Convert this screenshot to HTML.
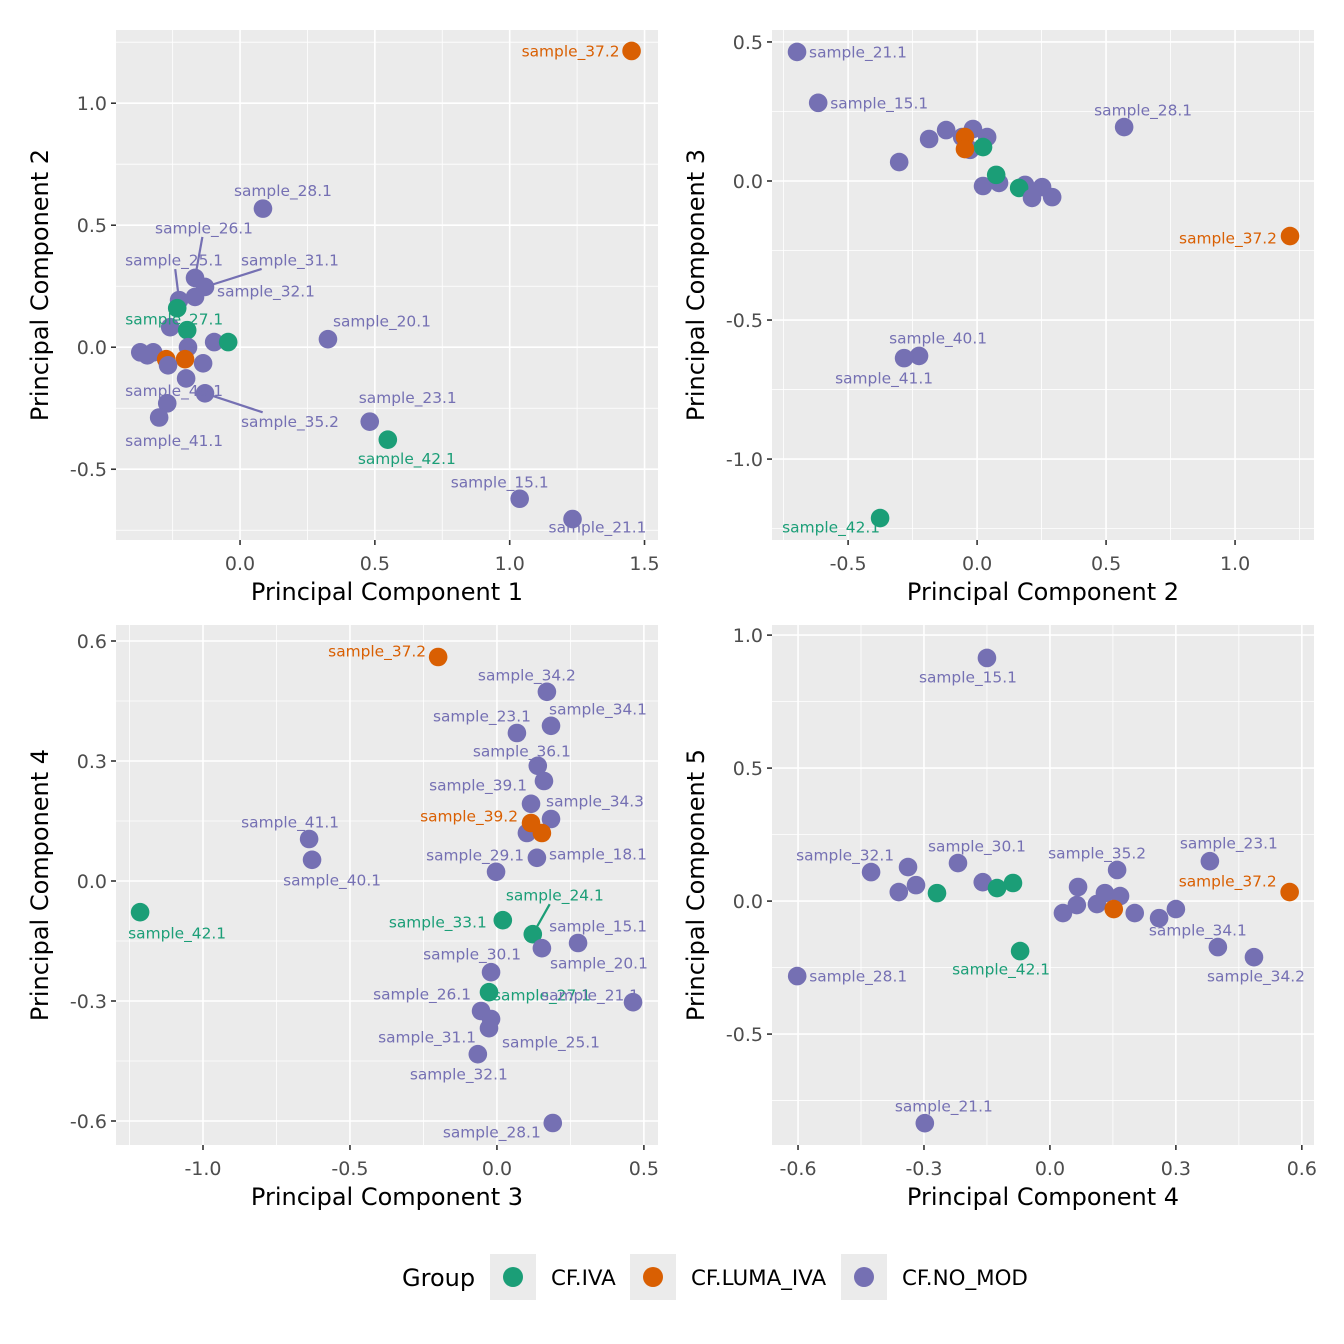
<!DOCTYPE html>
<html><head><meta charset="utf-8">
<style>
html,body{margin:0;padding:0;background:#fff;}
svg{display:block;font-family:"DejaVu Sans","Liberation Sans",sans-serif;}
</style></head>
<body>
<svg id="chart" width="1344" height="1344" viewBox="0 0 1344 1344" xmlns="http://www.w3.org/2000/svg"></svg>
<script>
// ---- data ----
const groups = ["CF.IVA", "CF.LUMA_IVA", "CF.NO_MOD"];
const groupColors = ["#1B9E77", "#D95F02", "#7570B3"];

// Panel 1: PC1 vs PC2
const p1x = [1.452,0.085,0.326,0.481,0.548,1.037,1.233,-0.167,-0.13,-0.167,-0.226,-0.233,-0.259,-0.196,-0.193,-0.096,-0.044,-0.37,-0.322,-0.344,-0.274,-0.204,-0.267,-0.137,-0.2,-0.13,-0.27,-0.3];
const p1y = [1.214,0.568,0.033,-0.305,-0.379,-0.621,-0.704,0.284,0.247,0.206,0.193,0.16,0.082,0.07,0.0,0.021,0.021,-0.021,-0.021,-0.033,-0.049,-0.049,-0.074,-0.066,-0.128,-0.189,-0.23,-0.288];
const p1g = [1,2,2,2,0,2,2,2,2,2,2,0,2,0,2,2,0,2,2,2,1,1,2,2,2,2,2,2];
const p1lab = ["sample_37.2","sample_28.1","sample_20.1","sample_23.1","sample_42.1","sample_15.1","sample_21.1","sample_26.1","sample_31.1","sample_32.1","sample_25.1","sample_27.1","","","","","","","","","","","","","sample_40.1","sample_35.2","","sample_41.1"];
const p1seg = [0,0,0,0,0,0,0,1,1,0,1,0,0,0,0,0,0,0,0,0,0,0,0,0,0,1,0,0];

// Panel 2: PC2 vs PC3
const p2x = [-0.698,-0.616,0.57,-0.225,-0.283,-0.376,-0.302,-0.186,-0.12,-0.016,-0.058,0.039,-0.027,0.023,0.023,0.085,0.074,0.186,0.163,0.252,0.213,0.291,-0.047,-0.047,1.213];
const p2y = [0.464,0.281,0.194,-0.629,-0.637,-1.212,0.068,0.151,0.183,0.187,0.158,0.158,0.112,0.122,-0.018,-0.007,0.022,-0.014,-0.025,-0.022,-0.061,-0.058,0.158,0.115,-0.198];
const p2g = [2,2,2,2,2,0,2,2,2,2,2,2,2,0,2,2,0,2,0,2,2,2,1,1,1];
const p2lab = ["sample_21.1","sample_15.1","sample_28.1","sample_40.1","sample_41.1","sample_42.1","","","","","","","","","","","","","","","","","","","sample_37.2"];
const p2seg = new Array(25).fill(0);

// Panel 3: PC3 vs PC4
const p3x = [-0.2,0.17,0.184,0.068,0.139,0.16,0.116,0.184,0.102,0.116,0.153,0.136,-0.003,0.02,0.122,0.153,0.276,-0.02,-0.027,0.463,-0.054,-0.02,-0.027,-0.065,0.19,-0.639,-0.629,-1.214];
const p3y = [0.56,0.473,0.388,0.37,0.288,0.25,0.193,0.155,0.12,0.145,0.12,0.058,0.023,-0.098,-0.133,-0.168,-0.155,-0.228,-0.278,-0.303,-0.325,-0.345,-0.368,-0.433,-0.605,0.105,0.053,-0.078];
const p3g = [1,2,2,2,2,2,2,2,2,1,1,2,2,0,0,2,2,2,0,2,2,2,2,2,2,2,2,0];
const p3lab = ["sample_37.2","sample_34.2","sample_34.1","sample_23.1","sample_36.1","","sample_39.1","sample_34.3","","sample_39.2","","sample_18.1","sample_29.1","sample_33.1","sample_24.1","sample_20.1","sample_15.1","sample_30.1","sample_27.1","sample_21.1","sample_26.1","sample_31.1","sample_25.1","sample_32.1","sample_28.1","sample_41.1","sample_40.1","sample_42.1"];
const p3seg = [0,0,0,0,0,0,0,0,0,0,0,0,0,0,1,0,0,0,0,0,0,0,0,0,0,0,0,0];

// Panel 4: PC4 vs PC5
const p4x = [-0.15,-0.426,-0.338,-0.319,-0.36,-0.269,-0.219,-0.16,-0.126,-0.088,-0.071,0.16,0.067,0.064,0.031,0.131,0.167,0.112,0.152,0.202,0.26,0.3,0.381,0.571,0.4,0.486,-0.602,-0.298];
const p4y = [0.914,0.109,0.128,0.06,0.034,0.03,0.143,0.071,0.049,0.068,-0.188,0.117,0.053,-0.015,-0.045,0.03,0.019,-0.011,-0.03,-0.045,-0.064,-0.03,0.15,0.034,-0.173,-0.211,-0.282,-0.835];
const p4g = [2,2,2,2,2,0,2,2,0,0,0,2,2,2,2,2,2,2,1,2,2,2,2,1,2,2,2,2];
const p4lab = ["sample_15.1","sample_32.1","","","","","sample_30.1","","","","sample_42.1","sample_35.2","","","","","","","","","","","sample_23.1","sample_37.2","sample_34.1","sample_34.2","sample_28.1","sample_21.1"];
const p4seg = new Array(28).fill(0);

// ---- layout (label offsets in pixels, not data) ----
const p1off = [[-61,0],[20,-18],[54,-18],[38,-24],[19,19],[-20,-17],[25,8],[9,-50],[85,-27],[71,-6],[-5,-40],[-3,11],[0,0],[0,0],[0,0],[0,0],[0,0],[0,0],[0,0],[0,0],[0,0],[0,0],[0,0],[0,0],[-12,12],[85,28],[0,0],[15,23]];
const p2off = [[61,0],[61,0],[19,-17],[19,-18],[-20,20],[-49,9],[0,0],[0,0],[0,0],[0,0],[0,0],[0,0],[0,0],[0,0],[0,0],[0,0],[0,0],[0,0],[0,0],[0,0],[0,0],[0,0],[0,0],[0,0],[-62,2]];
const p3off = [[-61,-6],[-20,-17],[47,-17],[-35,-17],[-16,-15],[0,0],[-53,-19],[44,-18],[0,0],[-62,-7],[0,0],[61,-4],[-21,-17],[-65,2],[22,-39],[57,15],[20,-17],[-19,-18],[53,3],[-43,-7],[-59,-17],[-64,18],[62,14],[-19,20],[-61,9],[-19,-17],[20,20],[37,21]];
const p4off = [[-19,19],[-26,-17],[0,0],[0,0],[0,0],[0,0],[19,-17],[0,0],[0,0],[0,0],[-19,18],[-20,-17],[0,0],[0,0],[0,0],[0,0],[0,0],[0,0],[0,0],[0,0],[0,0],[0,0],[19,-18],[-62,-11],[-20,-17],[2,19],[61,0],[19,-17]];

const panels = [
 {name:"pc1-vs-pc2", x0:116,x1:658,y0:30,y1:540, xmin:-0.46,xmax:1.55,ymin:-0.79,ymax:1.30,
  xt:[0,0.5,1,1.5], xtl:["0.0","0.5","1.0","1.5"], yt:[-0.5,0,0.5,1.0], ytl:["-0.5","0.0","0.5","1.0"],
  xtitle:"Principal Component 1", ytitle:"Principal Component 2", xs:p1x, ys:p1y, gs:p1g, labs:p1lab, offs:p1off, segs:p1seg},
 {name:"pc2-vs-pc3", x0:772,x1:1314,y0:30,y1:540, xmin:-0.795,xmax:1.306,ymin:-1.291,ymax:0.543,
  xt:[-0.5,0,0.5,1.0], xtl:["-0.5","0.0","0.5","1.0"], yt:[-1.0,-0.5,0,0.5], ytl:["-1.0","-0.5","0.0","0.5"],
  xtitle:"Principal Component 2", ytitle:"Principal Component 3", xs:p2x, ys:p2y, gs:p2g, labs:p2lab, offs:p2off, segs:p2seg},
 {name:"pc3-vs-pc4", x0:116,x1:658,y0:625,y1:1145, xmin:-1.296,xmax:0.548,ymin:-0.66,ymax:0.64,
  xt:[-1.0,-0.5,0,0.5], xtl:["-1.0","-0.5","0.0","0.5"], yt:[-0.6,-0.3,0,0.3,0.6], ytl:["-0.6","-0.3","0.0","0.3","0.6"],
  xtitle:"Principal Component 3", ytitle:"Principal Component 4", xs:p3x, ys:p3y, gs:p3g, labs:p3lab, offs:p3off, segs:p3seg},
 {name:"pc4-vs-pc5", x0:772,x1:1314,y0:625,y1:1145, xmin:-0.662,xmax:0.629,ymin:-0.917,ymax:1.038,
  xt:[-0.6,-0.3,0,0.3,0.6], xtl:["-0.6","-0.3","0.0","0.3","0.6"], yt:[-0.5,0,0.5,1.0], ytl:["-0.5","0.0","0.5","1.0"],
  xtitle:"Principal Component 4", ytitle:"Principal Component 5", xs:p4x, ys:p4y, gs:p4g, labs:p4lab, offs:p4off, segs:p4seg}
];

const NS = "http://www.w3.org/2000/svg";
const svg = document.getElementById("chart");
function mk(tag, attrs, parent){
  const e = document.createElementNS(NS, tag);
  for (const k in attrs) e.setAttribute(k, attrs[k]);
  (parent||svg).appendChild(e);
  return e;
}

panels.forEach(function(p){
  const g = mk("g", {});
  
  
  const sx = v => p.x0 + (v - p.xmin) / (p.xmax - p.xmin) * (p.x1 - p.x0);
  const sy = v => p.y1 - (v - p.ymin) / (p.ymax - p.ymin) * (p.y1 - p.y0);
  const bg = mk("rect", {x:p.x0, y:p.y0, width:p.x1-p.x0, height:p.y1-p.y0, fill:"#EBEBEB"}, g);
  
  
  function minors(t, lo, hi){
    const step = t[1]-t[0]; const out=[];
    for (let v = t[0]-step/2; v <= hi; v += step) if (v >= lo) out.push(v);
    return out;
  }
  minors(p.xt, p.xmin, p.xmax).forEach(v => {
    const l = mk("line", {x1:sx(v), x2:sx(v), y1:p.y0, y2:p.y1, stroke:"#fff", "stroke-width":0.8}, g);
    
    
  });
  minors(p.yt, p.ymin, p.ymax).forEach(v => {
    const l = mk("line", {x1:p.x0, x2:p.x1, y1:sy(v), y2:sy(v), stroke:"#fff", "stroke-width":0.8}, g);
    
    
  });
  p.xt.forEach((v,i) => {
    const l = mk("line", {x1:sx(v), x2:sx(v), y1:p.y0, y2:p.y1, stroke:"#fff", "stroke-width":1.6}, g);
    
    
    const t = mk("line", {x1:sx(v), x2:sx(v), y1:p.y1, y2:p.y1+5, stroke:"#333", "stroke-width":1.6}, g);
    
    
    const tx = mk("text", {x:sx(v), y:p.y1+30, "text-anchor":"middle", "font-size":"19", fill:"#4D4D4D"}, g);
    tx.textContent = p.xtl[i];
    
    
  });
  p.yt.forEach((v,i) => {
    const l = mk("line", {x1:p.x0, x2:p.x1, y1:sy(v), y2:sy(v), stroke:"#fff", "stroke-width":1.6}, g);
    
    
    const t = mk("line", {x1:p.x0-5, x2:p.x0, y1:sy(v), y2:sy(v), stroke:"#333", "stroke-width":1.6}, g);
    
    
    const tx = mk("text", {x:p.x0-9, y:sy(v)+7, "text-anchor":"end", "font-size":"19", fill:"#4D4D4D"}, g);
    tx.textContent = p.ytl[i];
    
    
  });
  const xt = mk("text", {x:(p.x0+p.x1)/2, y:p.y1+60, "text-anchor":"middle", "font-size":"24", fill:"#000"}, g);
  xt.textContent = p.xtitle;
  
  
  const yx = p.x0 - 68, yy = (p.y0+p.y1)/2;
  const yt = mk("text", {x:yx, y:yy, "text-anchor":"middle", "font-size":"24", fill:"#000", transform:"rotate(-90 "+yx+" "+yy+")"}, g);
  yt.textContent = p.ytitle;
  
  
  p.xs.forEach((v,i) => {
    const c = mk("circle", {cx:sx(v), cy:sy(p.ys[i]), r:9.3, fill:groupColors[p.gs[i]]}, g);
    
    
  });
  p.xs.forEach((v,i) => {
    if (!p.labs[i]) return;
    const px = sx(v), py = sy(p.ys[i]);
    const lx = px + p.offs[i][0], ly = py + p.offs[i][1];
    const col = groupColors[p.gs[i]];
    if (p.segs[i]) {
      const hw = 46, hh = 9;
      const dx = px - lx, dy = py - ly;
      const tt = Math.min(Math.abs(dx) > 0 ? hw/Math.abs(dx) : 1e9, Math.abs(dy) > 0 ? hh/Math.abs(dy) : 1e9);
      const ex = lx + dx*tt, ey = ly + dy*tt;
      const len = Math.hypot(px-ex, py-ey);
      const k = len > 6 ? (len-6)/len : 0;
      const s = mk("line", {x1:ex, y1:ey, x2:ex+(px-ex)*k, y2:ey+(py-ey)*k, stroke:col, "stroke-width":2.2}, g);
      
      
    }
    const t = mk("text", {x:lx, y:ly+5.5, "text-anchor":"middle", "font-size":"15.4", fill:col}, g);
    t.textContent = p.labs[i];
    
    
  });
});

// legend
const lg = mk("g", {});


const lt = mk("text", {x:402, y:1286, "font-size":"24", fill:"#000"}, lg);
lt.textContent = "Group";


const keyX = [490, 630, 841];
groups.forEach((gname, i) => {
  const e = mk("g", {}, lg);
  
  
  mk("rect", {x:keyX[i], y:1254, width:46, height:46, fill:"#EBEBEB"}, e);
  mk("circle", {cx:keyX[i]+23, cy:1277, r:10, fill:groupColors[i]}, e);
  const t = mk("text", {x:keyX[i]+61, y:1285, "font-size":"21.4", fill:"#000"}, e);
  t.textContent = gname;
});
</script>
</body></html>
